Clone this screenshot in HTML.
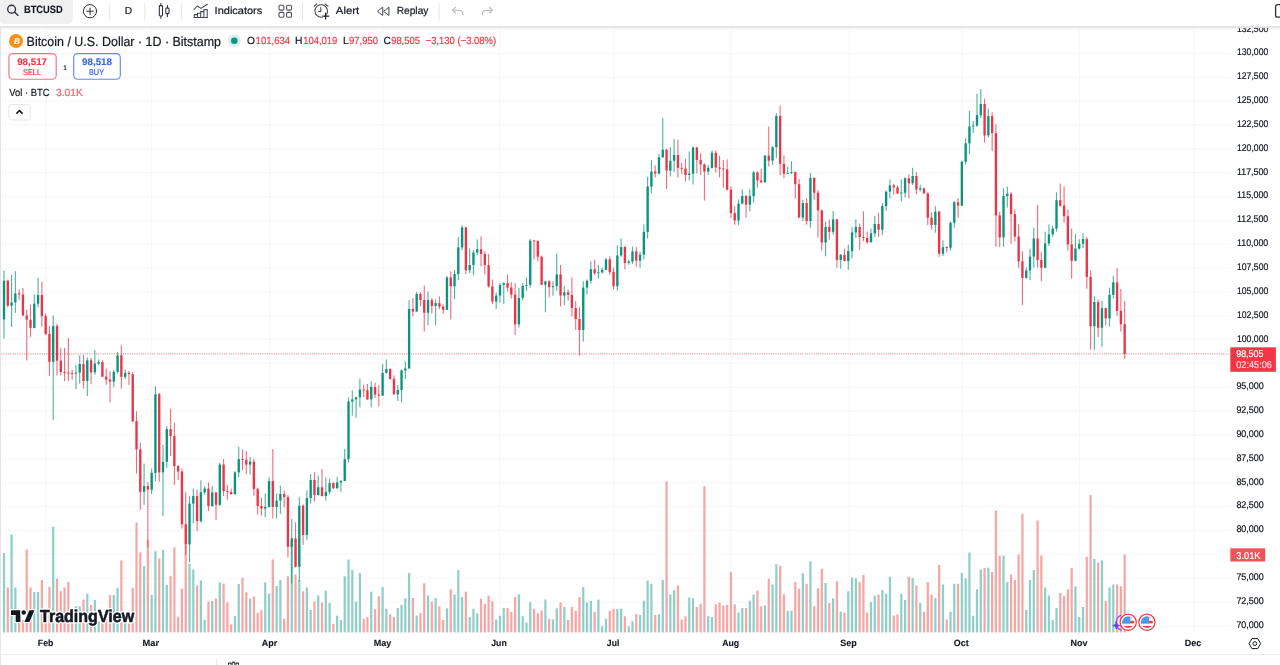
<!DOCTYPE html>
<html lang="en"><head><meta charset="utf-8"><title>BTCUSD chart</title>
<style>
html,body{margin:0;padding:0;background:#fff}
body{width:1280px;height:665px;position:relative;overflow:hidden;font-family:"Liberation Sans",sans-serif;color:#131722}
.w{opacity:.72}
text{font-family:"Liberation Sans",sans-serif;text-rendering:geometricPrecision;white-space:pre}
.abs{position:absolute}
.chart{position:absolute;left:0;top:0}
#pane{position:absolute;left:0;top:28px;width:1280px;height:637px;overflow:hidden}
#pane .chart{top:-28px}
</style></head><body>
<div id="toolbar">
<div class="abs" style="left:0;top:0;width:73px;height:24px;background:#f0f0f0;border-radius:0 0 5px 5px"></div>
<div class="abs" style="left:0;top:26px;width:1280px;height:2px;background:#e5e5e5"></div>
<div class="abs" style="left:0;top:28px;width:1280px;height:1px;background:#f4f4f4"></div>
<svg class="chart" width="1280" height="28" viewBox="0 0 1280 28" fill="none" stroke="#2a2e39" stroke-width="1.1" stroke-linecap="round" stroke-linejoin="round">
<!-- search -->
<circle cx="11.6" cy="9.2" r="3.9" stroke-width="1.35"/><path d="M14.5 12.1 L18 15.4" stroke-width="1.35"/>
<!-- plus circle -->
<circle cx="90" cy="11.2" r="6.6" stroke-width="1"/><path d="M86.8 11.2H93.2M90 8V14.4" stroke-width="1"/>
<!-- separators -->
<g stroke="#e6e6e6" stroke-width="1"><path d="M109.3 3.5V20M144.8 3.5V20M181.4 3.5V20M302.5 3.5V20M439.2 3.5V20"/></g>
<!-- candles icon -->
<g stroke-width="1.05"><rect x="159.3" y="5.6" width="3.2" height="10.3" rx="0.8"/><path d="M160.9 3.3V5.6M160.9 15.9V18.3"/><rect x="165.8" y="8" width="3.2" height="5.6" rx="0.8"/><path d="M167.4 5.6V8M167.4 13.6V16.4"/></g>
<!-- indicators icon -->
<g stroke-width="1.05" stroke="#434651"><path d="M194 9.3 L197.3 6 L201 8.4 L207.3 4.2"/><path d="M194.3 17.5V14.6H197.5V17.5M197.5 17.5V13.2H200.7V17.5M200.7 17.5V11.6H203.9V17.5M203.9 17.5V9.6H207.2V17.5M194 17.5H207.5"/></g>
<!-- grid icon -->
<g stroke-width="1.1" stroke="#50535e"><rect x="279" y="5.2" width="4.9" height="4.9" rx="1.2"/><rect x="286.6" y="5.2" width="4.9" height="4.9" rx="1.2"/><rect x="279" y="12.4" width="4.9" height="4.9" rx="1.2"/><rect x="286.6" y="12.4" width="4.9" height="4.9" rx="1.2"/></g>
<!-- alert icon -->
<g stroke-width="1.05" stroke="#434651"><path d="M326.6 14.2 A6.3 6.3 0 1 0 322.3 17.2"/><path d="M320.8 7.6V11.4H318.6"/><path d="M314.2 6.2 L316.8 4M325 4 L328 6.4"/><path d="M325.6 13.2V19M322.7 16.1H328.6" stroke-width="1.2" stroke="#131722"/></g>
<!-- replay icon -->
<g stroke-width="1" stroke="#434651"><path d="M382.4 7.4 L377.4 11.3 L382.4 15.2 Z"/><path d="M388.6 7.4 L383.6 11.3 L388.6 15.2 Z"/></g>
<!-- undo / redo -->
<g stroke="#b2b5be" stroke-width="1.05"><path d="M455.6 7.4 L452.7 10.2 L455.6 13"/><path d="M452.9 10.2H458.6C461.2 10.2 462.8 12 462.8 14.6"/><path d="M489.4 7.4 L492.3 10.2 L489.4 13"/><path d="M492.1 10.2H486.4C483.8 10.2 482.2 12 482.2 14.6"/></g>
<!-- top-right square -->
<rect x="1275.6" y="4.6" width="12" height="12.6" rx="2" stroke-width="1.3"/>
<g id="txt" stroke="none">
<text x="23.90" y="13.00" font-size="10.60" font-weight="700" fill="#131722" textLength="38.90" lengthAdjust="spacingAndGlyphs" style="stroke:#131722;stroke-width:0.12px">BTCUSD</text>
<text x="124.80" y="14.00" font-size="10.20" font-weight="400" fill="#131722" style="stroke:#131722;stroke-width:0.20px">D</text>
<text x="214.60" y="14.00" font-size="10.30" font-weight="400" fill="#131722" textLength="47.71" lengthAdjust="spacingAndGlyphs" style="stroke:#131722;stroke-width:0.20px">Indicators</text>
<text x="335.80" y="14.00" font-size="10.30" font-weight="400" fill="#131722" textLength="23.40" lengthAdjust="spacingAndGlyphs" style="stroke:#131722;stroke-width:0.20px">Alert</text>
<text x="396.70" y="14.00" font-size="10.30" font-weight="400" fill="#131722" textLength="31.70" lengthAdjust="spacingAndGlyphs" style="stroke:#131722;stroke-width:0.20px">Replay</text>
</g>
</svg>

</div>
<div id="pane">
<svg class="chart" width="1280" height="665" viewBox="0 0 1280 665">
<g fill="#f6f6f7">
<rect x="1.5" y="52.96" width="1229" height="1"/>
<rect x="1.5" y="76.81" width="1229" height="1"/>
<rect x="1.5" y="100.66" width="1229" height="1"/>
<rect x="1.5" y="124.50" width="1229" height="1"/>
<rect x="1.5" y="148.35" width="1229" height="1"/>
<rect x="1.5" y="172.20" width="1229" height="1"/>
<rect x="1.5" y="196.05" width="1229" height="1"/>
<rect x="1.5" y="219.90" width="1229" height="1"/>
<rect x="1.5" y="243.75" width="1229" height="1"/>
<rect x="1.5" y="267.59" width="1229" height="1"/>
<rect x="1.5" y="291.44" width="1229" height="1"/>
<rect x="1.5" y="315.29" width="1229" height="1"/>
<rect x="1.5" y="339.14" width="1229" height="1"/>
<rect x="1.5" y="362.99" width="1229" height="1"/>
<rect x="1.5" y="386.83" width="1229" height="1"/>
<rect x="1.5" y="410.68" width="1229" height="1"/>
<rect x="1.5" y="434.53" width="1229" height="1"/>
<rect x="1.5" y="458.38" width="1229" height="1"/>
<rect x="1.5" y="482.23" width="1229" height="1"/>
<rect x="1.5" y="506.07" width="1229" height="1"/>
<rect x="1.5" y="529.92" width="1229" height="1"/>
<rect x="1.5" y="553.77" width="1229" height="1"/>
<rect x="1.5" y="577.62" width="1229" height="1"/>
<rect x="1.5" y="601.47" width="1229" height="1"/>
<rect x="1.5" y="625.32" width="1229" height="1"/>
</g><g fill="#f5f5f6">
<rect x="45.70" y="28" width="1" height="605.5"/>
<rect x="150.90" y="28" width="1" height="605.5"/>
<rect x="269.50" y="28" width="1" height="605.5"/>
<rect x="382.50" y="28" width="1" height="605.5"/>
<rect x="499.10" y="28" width="1" height="605.5"/>
<rect x="613.20" y="28" width="1" height="605.5"/>
<rect x="730.75" y="28" width="1" height="605.5"/>
<rect x="848.70" y="28" width="1" height="605.5"/>
<rect x="961.40" y="28" width="1" height="605.5"/>
<rect x="1079.00" y="28" width="1" height="605.5"/>
<rect x="1193.20" y="28" width="1" height="605.5"/>
</g>
<g fill="#90cfc9"><rect x="2.88" y="553.00" width="2.25" height="79.40"/><rect x="10.45" y="534.50" width="2.25" height="97.90"/><rect x="14.23" y="587.50" width="2.25" height="44.90"/><rect x="33.16" y="592.00" width="2.25" height="40.40"/><rect x="36.95" y="592.00" width="2.25" height="40.40"/><rect x="52.09" y="526.75" width="2.25" height="105.65"/><rect x="74.81" y="606.25" width="2.25" height="26.15"/><rect x="78.59" y="606.25" width="2.25" height="26.15"/><rect x="86.17" y="593.75" width="2.25" height="38.65"/><rect x="93.74" y="600.00" width="2.25" height="32.40"/><rect x="97.53" y="621.25" width="2.25" height="11.15"/><rect x="112.67" y="595.00" width="2.25" height="37.40"/><rect x="116.45" y="588.00" width="2.25" height="44.40"/><rect x="124.03" y="622.29" width="2.25" height="10.11"/><rect x="142.96" y="566.12" width="2.25" height="66.28"/><rect x="150.53" y="594.83" width="2.25" height="37.57"/><rect x="154.31" y="551.14" width="2.25" height="81.26"/><rect x="161.89" y="549.90" width="2.25" height="82.50"/><rect x="165.67" y="584.84" width="2.25" height="47.56"/><rect x="188.39" y="563.62" width="2.25" height="68.78"/><rect x="192.18" y="569.37" width="2.25" height="63.03"/><rect x="199.75" y="580.35" width="2.25" height="52.05"/><rect x="203.53" y="619.79" width="2.25" height="12.61"/><rect x="211.10" y="601.07" width="2.25" height="31.33"/><rect x="218.68" y="582.35" width="2.25" height="50.05"/><rect x="233.82" y="616.05" width="2.25" height="16.35"/><rect x="237.61" y="584.09" width="2.25" height="48.31"/><rect x="248.97" y="598.57" width="2.25" height="33.83"/><rect x="264.11" y="582.35" width="2.25" height="50.05"/><rect x="267.89" y="593.58" width="2.25" height="38.82"/><rect x="275.47" y="586.09" width="2.25" height="46.31"/><rect x="279.25" y="580.00" width="2.25" height="52.40"/><rect x="290.61" y="545.00" width="2.25" height="87.40"/><rect x="298.18" y="580.00" width="2.25" height="52.40"/><rect x="305.75" y="587.50" width="2.25" height="44.90"/><rect x="309.54" y="610.00" width="2.25" height="22.40"/><rect x="317.11" y="595.50" width="2.25" height="36.90"/><rect x="324.69" y="590.75" width="2.25" height="41.65"/><rect x="328.47" y="603.00" width="2.25" height="29.40"/><rect x="336.04" y="615.75" width="2.25" height="16.65"/><rect x="339.83" y="620.00" width="2.25" height="12.40"/><rect x="343.62" y="576.25" width="2.25" height="56.15"/><rect x="347.40" y="559.50" width="2.25" height="72.90"/><rect x="351.19" y="570.00" width="2.25" height="62.40"/><rect x="354.97" y="601.75" width="2.25" height="30.65"/><rect x="358.76" y="573.00" width="2.25" height="59.40"/><rect x="370.12" y="591.75" width="2.25" height="40.65"/><rect x="381.48" y="587.00" width="2.25" height="45.40"/><rect x="385.26" y="608.75" width="2.25" height="23.65"/><rect x="396.62" y="608.00" width="2.25" height="24.40"/><rect x="400.41" y="605.00" width="2.25" height="27.40"/><rect x="404.19" y="598.25" width="2.25" height="34.15"/><rect x="407.98" y="573.00" width="2.25" height="59.40"/><rect x="415.55" y="615.50" width="2.25" height="16.90"/><rect x="426.91" y="595.50" width="2.25" height="36.90"/><rect x="434.48" y="598.00" width="2.25" height="34.40"/><rect x="445.84" y="608.25" width="2.25" height="24.15"/><rect x="453.41" y="594.50" width="2.25" height="37.90"/><rect x="457.19" y="570.00" width="2.25" height="62.40"/><rect x="460.98" y="597.00" width="2.25" height="35.40"/><rect x="468.55" y="617.00" width="2.25" height="15.40"/><rect x="472.34" y="608.75" width="2.25" height="23.65"/><rect x="476.12" y="613.25" width="2.25" height="19.15"/><rect x="495.06" y="619.50" width="2.25" height="12.90"/><rect x="498.84" y="615.75" width="2.25" height="16.65"/><rect x="502.63" y="608.00" width="2.25" height="24.40"/><rect x="517.77" y="594.25" width="2.25" height="38.15"/><rect x="521.56" y="616.25" width="2.25" height="16.15"/><rect x="525.34" y="622.50" width="2.25" height="9.90"/><rect x="529.13" y="602.00" width="2.25" height="30.40"/><rect x="544.27" y="599.50" width="2.25" height="32.90"/><rect x="551.85" y="619.50" width="2.25" height="12.90"/><rect x="555.63" y="608.25" width="2.25" height="24.15"/><rect x="563.20" y="607.00" width="2.25" height="25.40"/><rect x="582.13" y="587.00" width="2.25" height="45.40"/><rect x="585.92" y="602.50" width="2.25" height="29.90"/><rect x="589.71" y="600.75" width="2.25" height="31.65"/><rect x="597.28" y="599.50" width="2.25" height="32.90"/><rect x="601.06" y="626.25" width="2.25" height="6.15"/><rect x="604.85" y="618.75" width="2.25" height="13.65"/><rect x="616.21" y="608.75" width="2.25" height="23.65"/><rect x="619.99" y="608.75" width="2.25" height="23.65"/><rect x="627.57" y="626.25" width="2.25" height="6.15"/><rect x="631.35" y="621.25" width="2.25" height="11.15"/><rect x="638.92" y="615.00" width="2.25" height="17.40"/><rect x="642.71" y="600.75" width="2.25" height="31.65"/><rect x="646.50" y="580.50" width="2.25" height="51.90"/><rect x="650.28" y="583.75" width="2.25" height="48.65"/><rect x="657.85" y="614.25" width="2.25" height="18.15"/><rect x="661.64" y="580.00" width="2.25" height="52.40"/><rect x="669.21" y="594.50" width="2.25" height="37.90"/><rect x="673.00" y="590.00" width="2.25" height="42.40"/><rect x="688.14" y="597.50" width="2.25" height="34.90"/><rect x="691.93" y="598.25" width="2.25" height="34.15"/><rect x="707.07" y="616.25" width="2.25" height="16.15"/><rect x="710.86" y="617.00" width="2.25" height="15.40"/><rect x="737.36" y="612.50" width="2.25" height="19.90"/><rect x="741.14" y="608.00" width="2.25" height="24.40"/><rect x="748.72" y="600.75" width="2.25" height="31.65"/><rect x="752.50" y="594.50" width="2.25" height="37.90"/><rect x="763.86" y="605.50" width="2.25" height="26.90"/><rect x="771.43" y="584.50" width="2.25" height="47.90"/><rect x="775.22" y="564.25" width="2.25" height="68.15"/><rect x="786.58" y="610.75" width="2.25" height="21.65"/><rect x="790.36" y="610.75" width="2.25" height="21.65"/><rect x="801.72" y="573.25" width="2.25" height="59.15"/><rect x="809.29" y="561.25" width="2.25" height="71.15"/><rect x="824.44" y="583.00" width="2.25" height="49.40"/><rect x="832.01" y="598.25" width="2.25" height="34.15"/><rect x="839.58" y="611.75" width="2.25" height="20.65"/><rect x="847.15" y="591.25" width="2.25" height="41.15"/><rect x="850.94" y="577.50" width="2.25" height="54.90"/><rect x="854.73" y="578.25" width="2.25" height="54.15"/><rect x="869.87" y="602.00" width="2.25" height="30.40"/><rect x="873.65" y="595.75" width="2.25" height="36.65"/><rect x="881.23" y="590.00" width="2.25" height="42.40"/><rect x="885.01" y="593.75" width="2.25" height="38.65"/><rect x="888.80" y="576.75" width="2.25" height="55.65"/><rect x="900.16" y="593.75" width="2.25" height="38.65"/><rect x="903.94" y="600.00" width="2.25" height="32.40"/><rect x="911.51" y="578.00" width="2.25" height="54.40"/><rect x="919.09" y="603.00" width="2.25" height="29.40"/><rect x="934.23" y="598.00" width="2.25" height="34.40"/><rect x="941.80" y="584.50" width="2.25" height="47.90"/><rect x="949.38" y="611.75" width="2.25" height="20.65"/><rect x="953.16" y="583.75" width="2.25" height="48.65"/><rect x="960.73" y="573.00" width="2.25" height="59.40"/><rect x="964.52" y="578.25" width="2.25" height="54.15"/><rect x="968.31" y="552.50" width="2.25" height="79.90"/><rect x="972.09" y="615.75" width="2.25" height="16.65"/><rect x="975.88" y="589.25" width="2.25" height="43.15"/><rect x="979.66" y="569.50" width="2.25" height="62.90"/><rect x="987.24" y="567.50" width="2.25" height="64.90"/><rect x="1002.38" y="555.50" width="2.25" height="76.90"/><rect x="1006.16" y="582.00" width="2.25" height="50.40"/><rect x="1025.10" y="610.00" width="2.25" height="22.40"/><rect x="1028.88" y="580.00" width="2.25" height="52.40"/><rect x="1032.67" y="570.00" width="2.25" height="62.40"/><rect x="1044.03" y="587.50" width="2.25" height="44.90"/><rect x="1047.81" y="595.50" width="2.25" height="36.90"/><rect x="1051.60" y="620.00" width="2.25" height="12.40"/><rect x="1055.38" y="608.00" width="2.25" height="24.40"/><rect x="1074.31" y="586.25" width="2.25" height="46.15"/><rect x="1078.10" y="617.00" width="2.25" height="15.40"/><rect x="1081.88" y="607.00" width="2.25" height="25.40"/><rect x="1093.24" y="558.75" width="2.25" height="73.65"/><rect x="1100.82" y="560.50" width="2.25" height="71.90"/><rect x="1108.39" y="587.50" width="2.25" height="44.90"/><rect x="1112.17" y="584.50" width="2.25" height="47.90"/></g>
<g fill="#f5a7a5"><rect x="6.66" y="587.50" width="2.25" height="44.90"/><rect x="18.02" y="620.00" width="2.25" height="12.40"/><rect x="21.80" y="620.00" width="2.25" height="12.40"/><rect x="25.59" y="549.50" width="2.25" height="82.90"/><rect x="29.38" y="587.50" width="2.25" height="44.90"/><rect x="40.73" y="580.00" width="2.25" height="52.40"/><rect x="44.52" y="616.25" width="2.25" height="16.15"/><rect x="48.31" y="587.00" width="2.25" height="45.40"/><rect x="55.88" y="578.75" width="2.25" height="53.65"/><rect x="59.66" y="591.25" width="2.25" height="41.15"/><rect x="63.45" y="587.50" width="2.25" height="44.90"/><rect x="67.24" y="582.00" width="2.25" height="50.40"/><rect x="71.02" y="620.00" width="2.25" height="12.40"/><rect x="82.38" y="599.50" width="2.25" height="32.90"/><rect x="89.95" y="605.00" width="2.25" height="27.40"/><rect x="101.31" y="620.00" width="2.25" height="12.40"/><rect x="105.10" y="612.50" width="2.25" height="19.90"/><rect x="108.88" y="595.00" width="2.25" height="37.40"/><rect x="120.24" y="560.38" width="2.25" height="72.02"/><rect x="127.81" y="623.53" width="2.25" height="8.87"/><rect x="131.60" y="587.84" width="2.25" height="44.56"/><rect x="135.38" y="522.44" width="2.25" height="109.96"/><rect x="139.17" y="552.39" width="2.25" height="80.01"/><rect x="146.74" y="539.91" width="2.25" height="92.49"/><rect x="158.10" y="558.63" width="2.25" height="73.77"/><rect x="169.46" y="576.11" width="2.25" height="56.29"/><rect x="173.25" y="547.40" width="2.25" height="85.00"/><rect x="177.03" y="616.79" width="2.25" height="15.61"/><rect x="180.82" y="588.59" width="2.25" height="43.81"/><rect x="184.60" y="544.90" width="2.25" height="87.50"/><rect x="195.96" y="585.34" width="2.25" height="47.06"/><rect x="207.32" y="601.57" width="2.25" height="30.83"/><rect x="214.89" y="598.57" width="2.25" height="33.83"/><rect x="222.46" y="583.59" width="2.25" height="48.81"/><rect x="226.25" y="602.32" width="2.25" height="30.08"/><rect x="230.03" y="624.28" width="2.25" height="8.12"/><rect x="241.39" y="577.85" width="2.25" height="54.55"/><rect x="245.18" y="592.33" width="2.25" height="40.07"/><rect x="252.75" y="596.58" width="2.25" height="35.82"/><rect x="256.54" y="612.80" width="2.25" height="19.60"/><rect x="260.32" y="610.30" width="2.25" height="22.10"/><rect x="271.68" y="559.38" width="2.25" height="73.02"/><rect x="283.04" y="618.75" width="2.25" height="13.65"/><rect x="286.82" y="576.25" width="2.25" height="56.15"/><rect x="294.40" y="574.50" width="2.25" height="57.90"/><rect x="301.97" y="591.25" width="2.25" height="41.15"/><rect x="313.33" y="601.25" width="2.25" height="31.15"/><rect x="320.90" y="602.50" width="2.25" height="29.90"/><rect x="332.26" y="623.75" width="2.25" height="8.65"/><rect x="362.55" y="618.75" width="2.25" height="13.65"/><rect x="366.33" y="617.00" width="2.25" height="15.40"/><rect x="373.90" y="609.25" width="2.25" height="23.15"/><rect x="377.69" y="596.25" width="2.25" height="36.15"/><rect x="389.05" y="614.25" width="2.25" height="18.15"/><rect x="392.83" y="617.00" width="2.25" height="15.40"/><rect x="411.76" y="598.00" width="2.25" height="34.40"/><rect x="419.33" y="613.25" width="2.25" height="19.15"/><rect x="423.12" y="583.25" width="2.25" height="49.15"/><rect x="430.69" y="601.75" width="2.25" height="30.65"/><rect x="438.26" y="606.25" width="2.25" height="26.15"/><rect x="442.05" y="620.00" width="2.25" height="12.40"/><rect x="449.62" y="589.25" width="2.25" height="43.15"/><rect x="464.77" y="591.75" width="2.25" height="40.65"/><rect x="479.91" y="598.75" width="2.25" height="33.65"/><rect x="483.70" y="603.75" width="2.25" height="28.65"/><rect x="487.48" y="595.75" width="2.25" height="36.65"/><rect x="491.27" y="601.25" width="2.25" height="31.15"/><rect x="506.41" y="608.00" width="2.25" height="24.40"/><rect x="510.20" y="612.00" width="2.25" height="20.40"/><rect x="513.99" y="597.00" width="2.25" height="35.40"/><rect x="532.91" y="608.75" width="2.25" height="23.65"/><rect x="536.70" y="613.25" width="2.25" height="19.15"/><rect x="540.49" y="610.50" width="2.25" height="21.90"/><rect x="548.06" y="618.75" width="2.25" height="13.65"/><rect x="559.42" y="602.50" width="2.25" height="29.90"/><rect x="566.99" y="620.00" width="2.25" height="12.40"/><rect x="570.77" y="607.00" width="2.25" height="25.40"/><rect x="574.56" y="610.75" width="2.25" height="21.65"/><rect x="578.35" y="597.00" width="2.25" height="35.40"/><rect x="593.49" y="611.75" width="2.25" height="20.65"/><rect x="608.63" y="610.75" width="2.25" height="21.65"/><rect x="612.42" y="608.75" width="2.25" height="23.65"/><rect x="623.78" y="616.25" width="2.25" height="16.15"/><rect x="635.14" y="613.75" width="2.25" height="18.65"/><rect x="654.07" y="615.00" width="2.25" height="17.40"/><rect x="665.42" y="481.25" width="2.25" height="151.15"/><rect x="676.78" y="585.50" width="2.25" height="46.90"/><rect x="680.57" y="619.50" width="2.25" height="12.90"/><rect x="684.36" y="616.25" width="2.25" height="16.15"/><rect x="695.71" y="607.00" width="2.25" height="25.40"/><rect x="699.50" y="603.75" width="2.25" height="28.65"/><rect x="703.28" y="486.25" width="2.25" height="146.15"/><rect x="714.64" y="604.25" width="2.25" height="28.15"/><rect x="718.43" y="602.50" width="2.25" height="29.90"/><rect x="722.22" y="605.50" width="2.25" height="26.90"/><rect x="726.00" y="605.00" width="2.25" height="27.40"/><rect x="729.79" y="572.00" width="2.25" height="60.40"/><rect x="733.57" y="604.25" width="2.25" height="28.15"/><rect x="744.93" y="608.00" width="2.25" height="24.40"/><rect x="756.29" y="590.75" width="2.25" height="41.65"/><rect x="760.08" y="606.25" width="2.25" height="26.15"/><rect x="767.65" y="578.75" width="2.25" height="53.65"/><rect x="779.00" y="565.75" width="2.25" height="66.65"/><rect x="782.79" y="594.25" width="2.25" height="38.15"/><rect x="794.15" y="582.00" width="2.25" height="50.40"/><rect x="797.94" y="588.75" width="2.25" height="43.65"/><rect x="805.51" y="583.75" width="2.25" height="48.65"/><rect x="813.08" y="606.25" width="2.25" height="26.15"/><rect x="816.87" y="588.25" width="2.25" height="44.15"/><rect x="820.65" y="568.75" width="2.25" height="63.65"/><rect x="828.22" y="603.00" width="2.25" height="29.40"/><rect x="835.79" y="581.25" width="2.25" height="51.15"/><rect x="843.37" y="612.50" width="2.25" height="19.90"/><rect x="858.51" y="582.00" width="2.25" height="50.40"/><rect x="862.30" y="575.00" width="2.25" height="57.40"/><rect x="866.08" y="612.50" width="2.25" height="19.90"/><rect x="877.44" y="594.50" width="2.25" height="37.90"/><rect x="892.59" y="615.50" width="2.25" height="16.90"/><rect x="896.37" y="614.25" width="2.25" height="18.15"/><rect x="907.73" y="576.75" width="2.25" height="55.65"/><rect x="915.30" y="585.50" width="2.25" height="46.90"/><rect x="922.87" y="611.75" width="2.25" height="20.65"/><rect x="926.66" y="582.00" width="2.25" height="50.40"/><rect x="930.45" y="594.50" width="2.25" height="37.90"/><rect x="938.02" y="565.00" width="2.25" height="67.40"/><rect x="945.59" y="619.50" width="2.25" height="12.90"/><rect x="956.95" y="583.75" width="2.25" height="48.65"/><rect x="983.45" y="568.00" width="2.25" height="64.40"/><rect x="991.02" y="572.00" width="2.25" height="60.40"/><rect x="994.81" y="510.50" width="2.25" height="121.90"/><rect x="998.59" y="555.75" width="2.25" height="76.65"/><rect x="1009.95" y="574.50" width="2.25" height="57.90"/><rect x="1013.74" y="580.00" width="2.25" height="52.40"/><rect x="1017.52" y="554.50" width="2.25" height="77.90"/><rect x="1021.31" y="513.75" width="2.25" height="118.65"/><rect x="1036.45" y="520.50" width="2.25" height="111.90"/><rect x="1040.24" y="555.50" width="2.25" height="76.90"/><rect x="1059.17" y="593.00" width="2.25" height="39.40"/><rect x="1062.95" y="596.25" width="2.25" height="36.15"/><rect x="1066.74" y="589.25" width="2.25" height="43.15"/><rect x="1070.53" y="568.00" width="2.25" height="64.40"/><rect x="1085.67" y="557.00" width="2.25" height="75.40"/><rect x="1089.46" y="495.00" width="2.25" height="137.40"/><rect x="1097.03" y="562.50" width="2.25" height="69.90"/><rect x="1104.60" y="600.75" width="2.25" height="31.65"/><rect x="1115.96" y="584.50" width="2.25" height="47.90"/><rect x="1119.75" y="586.25" width="2.25" height="46.15"/><rect x="1123.53" y="554.50" width="2.25" height="77.90"/></g>
<line x1="1.5" y1="353.9" x2="1230" y2="353.9" stroke="#e93547" stroke-width="1" stroke-dasharray="0.8 1.45" opacity="0.85"/>
<g fill="#0a947d"><rect class="w" x="3.45" y="270.48" width="1.10" height="68.15"/><rect x="2.83" y="280.72" width="2.35" height="38.69"/><rect class="w" x="11.02" y="274.98" width="1.10" height="51.92"/><rect x="10.40" y="302.44" width="2.35" height="3.24"/><rect class="w" x="14.81" y="271.23" width="1.10" height="41.69"/><rect x="14.18" y="293.45" width="2.35" height="8.99"/><rect class="w" x="33.74" y="294.45" width="1.10" height="33.95"/><rect x="33.11" y="303.68" width="2.35" height="24.22"/><rect class="w" x="37.52" y="277.97" width="1.10" height="29.46"/><rect x="36.90" y="294.95" width="2.35" height="8.73"/><rect class="w" x="52.67" y="315.42" width="1.10" height="104.34"/><rect x="52.04" y="326.15" width="2.35" height="35.70"/><rect class="w" x="75.38" y="364.84" width="1.10" height="24.47"/><rect x="74.76" y="372.58" width="2.35" height="1.00"/><rect class="w" x="79.17" y="355.36" width="1.10" height="28.20"/><rect x="78.55" y="364.09" width="2.35" height="8.49"/><rect class="w" x="86.74" y="357.35" width="1.10" height="38.70"/><rect x="86.12" y="360.35" width="2.35" height="20.72"/><rect class="w" x="94.31" y="349.87" width="1.10" height="24.96"/><rect x="93.69" y="363.59" width="2.35" height="8.74"/><rect class="w" x="98.10" y="359.35" width="1.10" height="5.99"/><rect x="97.48" y="362.10" width="2.35" height="1.49"/><rect class="w" x="113.24" y="369.84" width="1.10" height="17.47"/><rect x="112.62" y="371.83" width="2.35" height="9.74"/><rect class="w" x="117.03" y="351.86" width="1.10" height="21.72"/><rect x="116.41" y="355.36" width="2.35" height="16.47"/><rect class="w" x="124.60" y="369.34" width="1.10" height="9.98"/><rect x="123.98" y="372.83" width="2.35" height="3.99"/><rect class="w" x="143.53" y="463.61" width="1.10" height="41.19"/><rect x="142.91" y="486.08" width="2.35" height="5.74"/><rect class="w" x="151.10" y="468.60" width="1.10" height="25.46"/><rect x="150.48" y="472.85" width="2.35" height="16.72"/><rect class="w" x="154.89" y="386.23" width="1.10" height="94.85"/><rect x="154.26" y="394.21" width="2.35" height="78.64"/><rect class="w" x="162.46" y="444.89" width="1.10" height="71.14"/><rect x="161.84" y="461.86" width="2.35" height="10.49"/><rect class="w" x="166.25" y="426.17" width="1.10" height="41.68"/><rect x="165.62" y="429.16" width="2.35" height="32.70"/><rect class="w" x="188.96" y="496.06" width="1.10" height="66.32"/><rect x="188.34" y="503.55" width="2.35" height="40.85"/><rect class="w" x="192.75" y="488.57" width="1.10" height="34.95"/><rect x="192.12" y="496.06" width="2.35" height="7.49"/><rect class="w" x="200.32" y="480.33" width="1.10" height="42.44"/><rect x="199.70" y="492.32" width="2.35" height="28.70"/><rect class="w" x="204.11" y="486.08" width="1.10" height="8.73"/><rect x="203.48" y="488.57" width="2.35" height="3.75"/><rect class="w" x="211.68" y="486.08" width="1.10" height="20.71"/><rect x="211.05" y="492.32" width="2.35" height="13.73"/><rect class="w" x="219.25" y="462.86" width="1.10" height="43.19"/><rect x="218.63" y="464.61" width="2.35" height="40.19"/><rect class="w" x="234.40" y="471.10" width="1.10" height="23.71"/><rect x="233.77" y="472.35" width="2.35" height="21.71"/><rect class="w" x="238.18" y="446.88" width="1.10" height="30.46"/><rect x="237.56" y="459.12" width="2.35" height="13.23"/><rect class="w" x="249.54" y="456.87" width="1.10" height="17.47"/><rect x="248.91" y="461.56" width="2.35" height="3.06"/><rect class="w" x="264.68" y="493.50" width="1.10" height="24.00"/><rect x="264.06" y="506.88" width="2.35" height="1.75"/><rect class="w" x="268.47" y="477.50" width="1.10" height="30.00"/><rect x="267.84" y="481.00" width="2.35" height="25.88"/><rect class="w" x="276.04" y="493.50" width="1.10" height="25.00"/><rect x="275.42" y="500.62" width="2.35" height="6.26"/><rect class="w" x="279.83" y="485.62" width="1.10" height="28.13"/><rect x="279.20" y="493.94" width="2.35" height="6.68"/><rect class="w" x="291.19" y="519.00" width="1.10" height="64.75"/><rect x="290.56" y="538.31" width="2.35" height="8.57"/><rect class="w" x="298.76" y="496.88" width="1.10" height="84.37"/><rect x="298.13" y="505.62" width="2.35" height="61.26"/><rect class="w" x="306.33" y="490.25" width="1.10" height="50.00"/><rect x="305.70" y="498.12" width="2.35" height="36.88"/><rect class="w" x="310.12" y="474.00" width="1.10" height="29.75"/><rect x="309.49" y="480.00" width="2.35" height="18.12"/><rect class="w" x="317.69" y="475.62" width="1.10" height="20.00"/><rect x="317.06" y="487.25" width="2.35" height="7.75"/><rect class="w" x="325.26" y="477.50" width="1.10" height="23.12"/><rect x="324.63" y="491.88" width="2.35" height="4.12"/><rect class="w" x="329.05" y="478.75" width="1.10" height="15.63"/><rect x="328.42" y="483.12" width="2.35" height="8.76"/><rect class="w" x="336.62" y="476.88" width="1.10" height="11.62"/><rect x="335.99" y="482.50" width="2.35" height="5.81"/><rect class="w" x="340.40" y="480.00" width="1.10" height="11.88"/><rect x="339.78" y="481.00" width="2.35" height="1.50"/><rect class="w" x="344.19" y="449.00" width="1.10" height="32.25"/><rect x="343.56" y="459.19" width="2.35" height="21.81"/><rect class="w" x="347.98" y="397.50" width="1.10" height="65.00"/><rect x="347.35" y="401.56" width="2.35" height="57.62"/><rect class="w" x="351.76" y="390.25" width="1.10" height="25.37"/><rect x="351.14" y="399.38" width="2.35" height="2.19"/><rect class="w" x="355.55" y="396.88" width="1.10" height="20.87"/><rect x="354.92" y="397.25" width="2.35" height="2.13"/><rect class="w" x="359.33" y="378.75" width="1.10" height="28.50"/><rect x="358.71" y="389.56" width="2.35" height="7.69"/><rect class="w" x="370.69" y="381.25" width="1.10" height="26.00"/><rect x="370.07" y="386.88" width="2.35" height="12.50"/><rect class="w" x="382.05" y="364.00" width="1.10" height="32.00"/><rect x="381.43" y="372.94" width="2.35" height="22.69"/><rect class="w" x="385.84" y="359.38" width="1.10" height="14.12"/><rect x="385.21" y="369.00" width="2.35" height="3.94"/><rect class="w" x="397.19" y="385.00" width="1.10" height="16.00"/><rect x="396.57" y="390.00" width="2.35" height="4.19"/><rect class="w" x="400.98" y="369.38" width="1.10" height="33.12"/><rect x="400.36" y="370.44" width="2.35" height="19.56"/><rect class="w" x="404.77" y="361.50" width="1.10" height="17.50"/><rect x="404.14" y="368.50" width="2.35" height="1.94"/><rect class="w" x="408.55" y="300.25" width="1.10" height="68.50"/><rect x="407.93" y="309.00" width="2.35" height="59.50"/><rect class="w" x="416.12" y="291.88" width="1.10" height="20.00"/><rect x="415.50" y="294.00" width="2.35" height="17.50"/><rect class="w" x="427.48" y="291.50" width="1.10" height="33.75"/><rect x="426.86" y="300.12" width="2.35" height="12.62"/><rect class="w" x="435.05" y="299.38" width="1.10" height="25.87"/><rect x="434.43" y="303.12" width="2.35" height="2.81"/><rect class="w" x="446.41" y="276.00" width="1.10" height="34.00"/><rect x="445.79" y="277.50" width="2.35" height="32.25"/><rect class="w" x="453.98" y="270.00" width="1.10" height="29.00"/><rect x="453.36" y="274.06" width="2.35" height="12.19"/><rect class="w" x="457.77" y="236.88" width="1.10" height="43.37"/><rect x="457.14" y="247.38" width="2.35" height="26.69"/><rect class="w" x="461.56" y="225.25" width="1.10" height="25.00"/><rect x="460.93" y="227.38" width="2.35" height="20.00"/><rect class="w" x="469.13" y="248.50" width="1.10" height="24.62"/><rect x="468.50" y="265.00" width="2.35" height="5.31"/><rect class="w" x="472.91" y="250.00" width="1.10" height="25.25"/><rect x="472.29" y="252.50" width="2.35" height="12.50"/><rect class="w" x="476.70" y="239.38" width="1.10" height="15.87"/><rect x="476.07" y="249.19" width="2.35" height="3.31"/><rect class="w" x="495.63" y="292.50" width="1.10" height="16.50"/><rect x="495.00" y="295.62" width="2.35" height="5.94"/><rect class="w" x="499.42" y="283.12" width="1.10" height="19.63"/><rect x="498.79" y="285.00" width="2.35" height="10.62"/><rect class="w" x="503.20" y="282.25" width="1.10" height="21.50"/><rect x="502.58" y="283.12" width="2.35" height="1.88"/><rect class="w" x="518.35" y="287.75" width="1.10" height="39.75"/><rect x="517.72" y="297.94" width="2.35" height="26.44"/><rect class="w" x="522.13" y="283.12" width="1.10" height="17.50"/><rect x="521.51" y="285.81" width="2.35" height="12.12"/><rect class="w" x="525.92" y="277.50" width="1.10" height="13.50"/><rect x="525.29" y="284.88" width="2.35" height="0.94"/><rect class="w" x="529.70" y="239.00" width="1.10" height="48.75"/><rect x="529.08" y="240.62" width="2.35" height="44.25"/><rect class="w" x="544.85" y="280.62" width="1.10" height="31.63"/><rect x="544.22" y="281.38" width="2.35" height="3.38"/><rect class="w" x="552.42" y="281.25" width="1.10" height="14.37"/><rect x="551.80" y="286.12" width="2.35" height="1.06"/><rect class="w" x="556.21" y="253.50" width="1.10" height="37.50"/><rect x="555.58" y="274.38" width="2.35" height="11.75"/><rect class="w" x="563.78" y="286.25" width="1.10" height="18.75"/><rect x="563.15" y="292.25" width="2.35" height="3.37"/><rect class="w" x="582.71" y="281.25" width="1.10" height="60.25"/><rect x="582.08" y="287.62" width="2.35" height="42.38"/><rect class="w" x="586.49" y="279.38" width="1.10" height="15.00"/><rect x="585.87" y="280.81" width="2.35" height="6.81"/><rect class="w" x="590.28" y="261.25" width="1.10" height="22.25"/><rect x="589.66" y="269.19" width="2.35" height="11.62"/><rect class="w" x="597.85" y="265.00" width="1.10" height="13.75"/><rect x="597.23" y="272.38" width="2.35" height="0.94"/><rect class="w" x="601.64" y="267.50" width="1.10" height="6.00"/><rect x="601.01" y="269.88" width="2.35" height="2.50"/><rect class="w" x="605.42" y="258.12" width="1.10" height="11.88"/><rect x="604.80" y="259.38" width="2.35" height="10.50"/><rect class="w" x="616.78" y="245.25" width="1.10" height="45.37"/><rect x="616.16" y="255.44" width="2.35" height="30.81"/><rect class="w" x="620.57" y="238.50" width="1.10" height="18.38"/><rect x="619.94" y="247.06" width="2.35" height="8.37"/><rect class="w" x="628.14" y="259.38" width="1.10" height="5.37"/><rect x="627.52" y="261.56" width="2.35" height="1.37"/><rect class="w" x="631.93" y="246.50" width="1.10" height="17.25"/><rect x="631.30" y="251.38" width="2.35" height="10.19"/><rect class="w" x="639.50" y="251.88" width="1.10" height="15.87"/><rect x="638.87" y="254.56" width="2.35" height="6.06"/><rect class="w" x="643.28" y="224.38" width="1.10" height="35.00"/><rect x="642.66" y="231.88" width="2.35" height="22.69"/><rect class="w" x="647.07" y="176.88" width="1.10" height="61.62"/><rect x="646.45" y="186.50" width="2.35" height="45.38"/><rect class="w" x="650.86" y="160.00" width="1.10" height="33.00"/><rect x="650.23" y="171.50" width="2.35" height="15.00"/><rect class="w" x="658.43" y="154.00" width="1.10" height="20.38"/><rect x="657.80" y="157.19" width="2.35" height="16.25"/><rect class="w" x="662.21" y="118.12" width="1.10" height="39.63"/><rect x="661.59" y="149.75" width="2.35" height="7.44"/><rect class="w" x="669.79" y="147.25" width="1.10" height="29.25"/><rect x="669.16" y="160.81" width="2.35" height="9.81"/><rect class="w" x="673.57" y="139.00" width="1.10" height="32.88"/><rect x="672.95" y="155.00" width="2.35" height="5.81"/><rect class="w" x="688.72" y="151.50" width="1.10" height="29.12"/><rect x="688.09" y="173.62" width="2.35" height="1.38"/><rect class="w" x="692.50" y="146.50" width="1.10" height="37.88"/><rect x="691.88" y="147.50" width="2.35" height="26.12"/><rect class="w" x="707.65" y="165.00" width="1.10" height="10.00"/><rect x="707.02" y="167.94" width="2.35" height="3.56"/><rect class="w" x="711.43" y="150.62" width="1.10" height="17.88"/><rect x="710.81" y="152.81" width="2.35" height="15.12"/><rect class="w" x="737.93" y="199.38" width="1.10" height="25.87"/><rect x="737.31" y="203.62" width="2.35" height="16.81"/><rect class="w" x="741.72" y="189.38" width="1.10" height="14.62"/><rect x="741.10" y="196.00" width="2.35" height="7.62"/><rect class="w" x="749.29" y="189.38" width="1.10" height="22.12"/><rect x="748.67" y="196.12" width="2.35" height="8.44"/><rect class="w" x="753.08" y="171.00" width="1.10" height="31.75"/><rect x="752.45" y="172.38" width="2.35" height="23.75"/><rect class="w" x="764.44" y="155.00" width="1.10" height="27.50"/><rect x="763.81" y="155.62" width="2.35" height="26.75"/><rect class="w" x="772.01" y="146.25" width="1.10" height="18.75"/><rect x="771.38" y="147.19" width="2.35" height="13.43"/><rect class="w" x="775.79" y="113.12" width="1.10" height="45.00"/><rect x="775.17" y="116.00" width="2.35" height="31.19"/><rect class="w" x="787.15" y="166.88" width="1.10" height="7.50"/><rect x="786.53" y="172.93" width="2.35" height="0.90"/><rect class="w" x="790.94" y="161.25" width="1.10" height="12.75"/><rect x="790.31" y="172.19" width="2.35" height="0.94"/><rect class="w" x="802.30" y="199.75" width="1.10" height="21.25"/><rect x="801.67" y="203.12" width="2.35" height="14.38"/><rect class="w" x="809.87" y="173.12" width="1.10" height="54.63"/><rect x="809.24" y="177.94" width="2.35" height="43.06"/><rect class="w" x="825.01" y="221.50" width="1.10" height="34.75"/><rect x="824.39" y="226.88" width="2.35" height="15.62"/><rect class="w" x="832.58" y="211.00" width="1.10" height="23.75"/><rect x="831.96" y="219.38" width="2.35" height="12.50"/><rect class="w" x="840.16" y="254.00" width="1.10" height="14.75"/><rect x="839.53" y="254.88" width="2.35" height="5.12"/><rect class="w" x="847.73" y="244.75" width="1.10" height="25.00"/><rect x="847.10" y="251.12" width="2.35" height="9.88"/><rect class="w" x="851.51" y="226.88" width="1.10" height="31.62"/><rect x="850.89" y="232.38" width="2.35" height="18.75"/><rect class="w" x="855.30" y="219.38" width="1.10" height="18.74"/><rect x="854.68" y="226.88" width="2.35" height="5.50"/><rect class="w" x="870.44" y="228.50" width="1.10" height="14.00"/><rect x="869.82" y="233.31" width="2.35" height="9.00"/><rect class="w" x="874.23" y="216.00" width="1.10" height="20.88"/><rect x="873.61" y="224.00" width="2.35" height="9.31"/><rect class="w" x="881.80" y="203.12" width="1.10" height="32.13"/><rect x="881.18" y="206.12" width="2.35" height="23.62"/><rect class="w" x="885.59" y="190.62" width="1.10" height="20.38"/><rect x="884.96" y="191.69" width="2.35" height="14.44"/><rect class="w" x="889.37" y="179.38" width="1.10" height="19.12"/><rect x="888.75" y="185.44" width="2.35" height="6.25"/><rect class="w" x="900.73" y="179.38" width="1.10" height="22.12"/><rect x="900.11" y="192.64" width="2.35" height="0.90"/><rect class="w" x="904.52" y="177.25" width="1.10" height="20.25"/><rect x="903.89" y="178.31" width="2.35" height="14.38"/><rect class="w" x="912.09" y="167.75" width="1.10" height="17.25"/><rect x="911.47" y="176.00" width="2.35" height="7.12"/><rect class="w" x="919.66" y="184.75" width="1.10" height="6.75"/><rect x="919.04" y="188.31" width="2.35" height="1.25"/><rect class="w" x="934.81" y="206.25" width="1.10" height="26.50"/><rect x="934.18" y="211.69" width="2.35" height="13.31"/><rect class="w" x="942.38" y="240.25" width="1.10" height="15.75"/><rect x="941.75" y="247.25" width="2.35" height="6.50"/><rect class="w" x="949.95" y="221.50" width="1.10" height="29.12"/><rect x="949.33" y="222.81" width="2.35" height="25.00"/><rect class="w" x="953.74" y="201.00" width="1.10" height="26.75"/><rect x="953.11" y="202.31" width="2.35" height="20.50"/><rect class="w" x="961.31" y="160.62" width="1.10" height="45.38"/><rect x="960.68" y="161.69" width="2.35" height="43.93"/><rect class="w" x="965.09" y="138.12" width="1.10" height="26.26"/><rect x="964.47" y="143.31" width="2.35" height="18.38"/><rect class="w" x="968.88" y="111.00" width="1.10" height="43.00"/><rect x="968.26" y="126.56" width="2.35" height="16.75"/><rect class="w" x="972.67" y="121.00" width="1.10" height="12.12"/><rect x="972.04" y="125.62" width="2.35" height="0.94"/><rect class="w" x="976.45" y="93.75" width="1.10" height="33.13"/><rect x="975.83" y="115.12" width="2.35" height="10.50"/><rect class="w" x="980.24" y="89.00" width="1.10" height="29.12"/><rect x="979.61" y="104.00" width="2.35" height="11.12"/><rect class="w" x="987.81" y="108.75" width="1.10" height="29.00"/><rect x="987.19" y="116.12" width="2.35" height="19.31"/><rect class="w" x="1002.95" y="188.12" width="1.10" height="58.76"/><rect x="1002.33" y="196.00" width="2.35" height="41.50"/><rect class="w" x="1006.74" y="186.50" width="1.10" height="21.00"/><rect x="1006.12" y="193.75" width="2.35" height="2.25"/><rect class="w" x="1025.67" y="267.50" width="1.10" height="11.25"/><rect x="1025.05" y="270.44" width="2.35" height="7.50"/><rect class="w" x="1029.46" y="248.75" width="1.10" height="31.50"/><rect x="1028.83" y="256.56" width="2.35" height="13.87"/><rect class="w" x="1033.24" y="227.75" width="1.10" height="39.75"/><rect x="1032.62" y="238.50" width="2.35" height="18.06"/><rect class="w" x="1044.60" y="231.50" width="1.10" height="36.62"/><rect x="1043.98" y="243.44" width="2.35" height="24.31"/><rect class="w" x="1048.39" y="224.38" width="1.10" height="21.62"/><rect x="1047.76" y="234.38" width="2.35" height="9.06"/><rect class="w" x="1052.17" y="225.62" width="1.10" height="11.26"/><rect x="1051.55" y="228.56" width="2.35" height="5.81"/><rect class="w" x="1055.96" y="192.25" width="1.10" height="39.25"/><rect x="1055.33" y="200.25" width="2.35" height="28.31"/><rect class="w" x="1074.89" y="234.00" width="1.10" height="27.25"/><rect x="1074.26" y="248.56" width="2.35" height="12.25"/><rect class="w" x="1078.67" y="239.38" width="1.10" height="10.37"/><rect x="1078.05" y="243.75" width="2.35" height="4.81"/><rect class="w" x="1082.46" y="233.12" width="1.10" height="15.00"/><rect x="1081.84" y="239.06" width="2.35" height="4.69"/><rect class="w" x="1093.82" y="296.25" width="1.10" height="53.50"/><rect x="1093.19" y="302.06" width="2.35" height="24.19"/><rect class="w" x="1101.39" y="301.00" width="1.10" height="45.88"/><rect x="1100.77" y="308.12" width="2.35" height="19.63"/><rect class="w" x="1108.96" y="287.50" width="1.10" height="39.00"/><rect x="1108.34" y="294.88" width="2.35" height="23.50"/><rect class="w" x="1112.75" y="276.00" width="1.10" height="22.50"/><rect x="1112.12" y="282.38" width="2.35" height="12.50"/></g>
<g fill="#e93547"><rect class="w" x="7.24" y="279.47" width="1.10" height="27.96"/><rect x="6.61" y="280.72" width="2.35" height="24.96"/><rect class="w" x="18.59" y="289.46" width="1.10" height="10.48"/><rect x="17.97" y="293.45" width="2.35" height="1.12"/><rect class="w" x="22.38" y="287.96" width="1.10" height="28.21"/><rect x="21.75" y="294.57" width="2.35" height="20.85"/><rect class="w" x="26.17" y="309.93" width="1.10" height="50.42"/><rect x="25.54" y="315.42" width="2.35" height="4.24"/><rect class="w" x="29.95" y="304.43" width="1.10" height="32.45"/><rect x="29.33" y="319.66" width="2.35" height="8.24"/><rect class="w" x="41.31" y="281.72" width="1.10" height="45.18"/><rect x="40.69" y="294.95" width="2.35" height="21.22"/><rect class="w" x="45.10" y="313.67" width="1.10" height="21.72"/><rect x="44.47" y="316.17" width="2.35" height="17.72"/><rect class="w" x="48.88" y="326.15" width="1.10" height="49.93"/><rect x="48.26" y="333.89" width="2.35" height="27.96"/><rect class="w" x="56.45" y="323.65" width="1.10" height="51.68"/><rect x="55.83" y="326.15" width="2.35" height="34.58"/><rect class="w" x="60.24" y="347.87" width="1.10" height="27.46"/><rect x="59.62" y="360.73" width="2.35" height="11.35"/><rect class="w" x="64.03" y="347.87" width="1.10" height="33.20"/><rect x="63.40" y="372.07" width="2.35" height="0.90"/><rect class="w" x="67.81" y="337.88" width="1.10" height="43.19"/><rect x="67.19" y="372.63" width="2.35" height="0.90"/><rect class="w" x="71.60" y="369.84" width="1.10" height="9.98"/><rect x="70.97" y="372.94" width="2.35" height="0.90"/><rect class="w" x="82.96" y="354.86" width="1.10" height="33.70"/><rect x="82.33" y="364.09" width="2.35" height="16.98"/><rect class="w" x="90.53" y="357.85" width="1.10" height="26.46"/><rect x="89.90" y="360.35" width="2.35" height="11.98"/><rect class="w" x="101.89" y="360.35" width="1.10" height="16.97"/><rect x="101.26" y="362.10" width="2.35" height="14.60"/><rect class="w" x="105.67" y="368.59" width="1.10" height="16.22"/><rect x="105.05" y="376.70" width="2.35" height="2.87"/><rect class="w" x="109.46" y="371.08" width="1.10" height="31.21"/><rect x="108.83" y="379.57" width="2.35" height="2.00"/><rect class="w" x="120.82" y="344.87" width="1.10" height="43.69"/><rect x="120.19" y="355.36" width="2.35" height="21.46"/><rect class="w" x="128.39" y="371.08" width="1.10" height="13.73"/><rect x="127.76" y="372.83" width="2.35" height="1.33"/><rect class="w" x="132.17" y="372.50" width="1.10" height="49.92"/><rect x="131.55" y="374.16" width="2.35" height="47.01"/><rect class="w" x="135.96" y="411.19" width="1.10" height="62.40"/><rect x="135.33" y="421.17" width="2.35" height="28.21"/><rect class="w" x="139.75" y="442.39" width="1.10" height="67.40"/><rect x="139.12" y="449.38" width="2.35" height="42.44"/><rect class="w" x="147.32" y="481.83" width="1.10" height="65.57"/><rect x="146.69" y="486.08" width="2.35" height="3.49"/><rect class="w" x="158.68" y="392.97" width="1.10" height="88.86"/><rect x="158.05" y="394.21" width="2.35" height="78.14"/><rect class="w" x="170.03" y="408.69" width="1.10" height="47.43"/><rect x="169.41" y="429.16" width="2.35" height="6.99"/><rect class="w" x="173.82" y="422.92" width="1.10" height="61.91"/><rect x="173.19" y="436.15" width="2.35" height="29.96"/><rect class="w" x="177.61" y="464.86" width="1.10" height="14.98"/><rect x="176.98" y="466.11" width="2.35" height="5.37"/><rect class="w" x="181.39" y="468.60" width="1.10" height="59.91"/><rect x="180.77" y="471.48" width="2.35" height="52.79"/><rect class="w" x="185.18" y="492.32" width="1.10" height="62.57"/><rect x="184.55" y="524.27" width="2.35" height="20.13"/><rect class="w" x="196.54" y="489.82" width="1.10" height="41.19"/><rect x="195.91" y="496.06" width="2.35" height="24.96"/><rect class="w" x="207.89" y="482.33" width="1.10" height="28.71"/><rect x="207.27" y="488.57" width="2.35" height="17.48"/><rect class="w" x="215.47" y="492.32" width="1.10" height="27.46"/><rect x="214.84" y="492.32" width="2.35" height="12.48"/><rect class="w" x="223.04" y="459.12" width="1.10" height="36.94"/><rect x="222.41" y="464.61" width="2.35" height="26.46"/><rect class="w" x="226.82" y="484.83" width="1.10" height="14.98"/><rect x="226.20" y="491.06" width="2.35" height="0.90"/><rect class="w" x="230.61" y="488.57" width="1.10" height="6.24"/><rect x="229.98" y="491.94" width="2.35" height="2.12"/><rect class="w" x="241.97" y="449.38" width="1.10" height="20.47"/><rect x="241.34" y="458.98" width="2.35" height="0.90"/><rect class="w" x="245.75" y="451.13" width="1.10" height="23.21"/><rect x="245.13" y="459.74" width="2.35" height="4.87"/><rect class="w" x="253.33" y="458.75" width="1.10" height="36.87"/><rect x="252.70" y="461.56" width="2.35" height="27.32"/><rect class="w" x="257.11" y="487.50" width="1.10" height="27.12"/><rect x="256.49" y="488.88" width="2.35" height="17.12"/><rect class="w" x="260.90" y="497.50" width="1.10" height="18.12"/><rect x="260.27" y="506.00" width="2.35" height="2.62"/><rect class="w" x="272.26" y="449.00" width="1.10" height="69.50"/><rect x="271.63" y="481.00" width="2.35" height="25.88"/><rect class="w" x="283.61" y="490.62" width="1.10" height="16.88"/><rect x="282.99" y="493.94" width="2.35" height="3.25"/><rect class="w" x="287.40" y="495.00" width="1.10" height="62.50"/><rect x="286.77" y="497.19" width="2.35" height="49.69"/><rect class="w" x="294.97" y="522.25" width="1.10" height="45.25"/><rect x="294.35" y="538.31" width="2.35" height="28.57"/><rect class="w" x="302.54" y="504.38" width="1.10" height="40.62"/><rect x="301.92" y="505.62" width="2.35" height="29.38"/><rect class="w" x="313.90" y="472.25" width="1.10" height="29.25"/><rect x="313.28" y="480.00" width="2.35" height="15.00"/><rect class="w" x="321.47" y="469.00" width="1.10" height="27.50"/><rect x="320.85" y="487.25" width="2.35" height="8.75"/><rect class="w" x="332.83" y="482.25" width="1.10" height="6.75"/><rect x="332.21" y="483.12" width="2.35" height="5.19"/><rect class="w" x="363.12" y="384.75" width="1.10" height="12.50"/><rect x="362.50" y="389.46" width="2.35" height="0.90"/><rect class="w" x="366.91" y="384.00" width="1.10" height="15.75"/><rect x="366.28" y="390.25" width="2.35" height="9.13"/><rect class="w" x="374.48" y="382.75" width="1.10" height="15.37"/><rect x="373.85" y="386.88" width="2.35" height="7.69"/><rect class="w" x="378.26" y="385.00" width="1.10" height="21.50"/><rect x="377.64" y="394.56" width="2.35" height="1.06"/><rect class="w" x="389.62" y="368.50" width="1.10" height="11.25"/><rect x="389.00" y="369.00" width="2.35" height="9.88"/><rect class="w" x="393.41" y="375.25" width="1.10" height="19.50"/><rect x="392.78" y="378.88" width="2.35" height="15.31"/><rect class="w" x="412.34" y="298.12" width="1.10" height="18.38"/><rect x="411.71" y="309.00" width="2.35" height="2.50"/><rect class="w" x="419.91" y="292.25" width="1.10" height="14.00"/><rect x="419.28" y="294.00" width="2.35" height="6.00"/><rect class="w" x="423.70" y="285.62" width="1.10" height="45.88"/><rect x="423.07" y="300.00" width="2.35" height="12.75"/><rect class="w" x="431.27" y="298.12" width="1.10" height="15.38"/><rect x="430.64" y="300.12" width="2.35" height="5.81"/><rect class="w" x="438.84" y="296.50" width="1.10" height="12.50"/><rect x="438.21" y="303.12" width="2.35" height="3.44"/><rect class="w" x="442.63" y="304.38" width="1.10" height="9.12"/><rect x="442.00" y="306.56" width="2.35" height="3.19"/><rect class="w" x="450.20" y="271.25" width="1.10" height="48.13"/><rect x="449.57" y="277.50" width="2.35" height="8.75"/><rect class="w" x="465.34" y="226.88" width="1.10" height="47.12"/><rect x="464.72" y="227.38" width="2.35" height="42.94"/><rect class="w" x="480.49" y="236.25" width="1.10" height="30.25"/><rect x="479.86" y="249.19" width="2.35" height="4.88"/><rect class="w" x="484.27" y="251.25" width="1.10" height="22.75"/><rect x="483.65" y="254.06" width="2.35" height="11.06"/><rect class="w" x="488.06" y="254.00" width="1.10" height="33.50"/><rect x="487.43" y="265.12" width="2.35" height="21.31"/><rect class="w" x="491.84" y="279.38" width="1.10" height="24.62"/><rect x="491.22" y="286.44" width="2.35" height="15.12"/><rect class="w" x="506.99" y="274.75" width="1.10" height="16.50"/><rect x="506.36" y="283.12" width="2.35" height="4.38"/><rect class="w" x="510.77" y="282.25" width="1.10" height="16.25"/><rect x="510.15" y="287.50" width="2.35" height="7.06"/><rect class="w" x="514.56" y="283.12" width="1.10" height="51.88"/><rect x="513.94" y="294.56" width="2.35" height="29.81"/><rect class="w" x="533.49" y="240.25" width="1.10" height="19.13"/><rect x="532.87" y="240.42" width="2.35" height="0.90"/><rect class="w" x="537.28" y="240.25" width="1.10" height="21.00"/><rect x="536.65" y="241.12" width="2.35" height="15.56"/><rect class="w" x="541.06" y="255.62" width="1.10" height="29.38"/><rect x="540.44" y="256.69" width="2.35" height="28.06"/><rect class="w" x="548.63" y="280.25" width="1.10" height="17.00"/><rect x="548.01" y="281.38" width="2.35" height="5.81"/><rect class="w" x="559.99" y="265.00" width="1.10" height="41.50"/><rect x="559.37" y="274.38" width="2.35" height="21.24"/><rect class="w" x="567.56" y="289.38" width="1.10" height="11.24"/><rect x="566.94" y="292.25" width="2.35" height="2.62"/><rect class="w" x="571.35" y="277.50" width="1.10" height="39.00"/><rect x="570.73" y="294.88" width="2.35" height="13.25"/><rect class="w" x="575.14" y="301.25" width="1.10" height="28.50"/><rect x="574.51" y="308.12" width="2.35" height="10.88"/><rect class="w" x="578.92" y="307.25" width="1.10" height="48.37"/><rect x="578.30" y="319.00" width="2.35" height="11.00"/><rect class="w" x="594.07" y="259.75" width="1.10" height="15.50"/><rect x="593.44" y="269.19" width="2.35" height="4.12"/><rect class="w" x="609.21" y="256.25" width="1.10" height="18.50"/><rect x="608.59" y="259.38" width="2.35" height="12.69"/><rect class="w" x="613.00" y="267.50" width="1.10" height="21.88"/><rect x="612.37" y="272.06" width="2.35" height="14.19"/><rect class="w" x="624.35" y="245.62" width="1.10" height="23.76"/><rect x="623.73" y="247.06" width="2.35" height="15.87"/><rect class="w" x="635.71" y="247.25" width="1.10" height="19.63"/><rect x="635.09" y="251.38" width="2.35" height="9.25"/><rect class="w" x="654.64" y="165.25" width="1.10" height="12.25"/><rect x="654.02" y="171.50" width="2.35" height="1.94"/><rect class="w" x="666.00" y="148.75" width="1.10" height="40.25"/><rect x="665.38" y="149.75" width="2.35" height="20.87"/><rect class="w" x="677.36" y="139.75" width="1.10" height="37.75"/><rect x="676.73" y="155.00" width="2.35" height="12.94"/><rect class="w" x="681.14" y="162.50" width="1.10" height="11.25"/><rect x="680.52" y="167.83" width="2.35" height="0.90"/><rect class="w" x="684.93" y="159.00" width="1.10" height="22.50"/><rect x="684.31" y="168.62" width="2.35" height="6.38"/><rect class="w" x="696.29" y="146.88" width="1.10" height="26.62"/><rect x="695.66" y="147.50" width="2.35" height="12.62"/><rect class="w" x="700.07" y="153.12" width="1.10" height="21.88"/><rect x="699.45" y="160.12" width="2.35" height="4.25"/><rect class="w" x="703.86" y="163.50" width="1.10" height="37.12"/><rect x="703.24" y="164.38" width="2.35" height="7.12"/><rect class="w" x="715.22" y="150.62" width="1.10" height="21.88"/><rect x="714.59" y="152.81" width="2.35" height="14.69"/><rect class="w" x="719.00" y="155.62" width="1.10" height="21.63"/><rect x="718.38" y="167.50" width="2.35" height="1.12"/><rect class="w" x="722.79" y="160.00" width="1.10" height="27.75"/><rect x="722.17" y="168.55" width="2.35" height="0.90"/><rect class="w" x="726.58" y="159.38" width="1.10" height="31.24"/><rect x="725.95" y="169.38" width="2.35" height="20.31"/><rect class="w" x="730.36" y="186.50" width="1.10" height="31.62"/><rect x="729.74" y="189.69" width="2.35" height="23.43"/><rect class="w" x="734.15" y="206.25" width="1.10" height="18.50"/><rect x="733.52" y="213.12" width="2.35" height="7.31"/><rect class="w" x="745.51" y="195.00" width="1.10" height="22.75"/><rect x="744.88" y="196.00" width="2.35" height="8.56"/><rect class="w" x="756.86" y="171.25" width="1.10" height="16.25"/><rect x="756.24" y="172.38" width="2.35" height="8.06"/><rect class="w" x="760.65" y="168.75" width="1.10" height="14.00"/><rect x="760.03" y="180.44" width="2.35" height="1.94"/><rect class="w" x="768.22" y="126.50" width="1.10" height="40.00"/><rect x="767.60" y="155.62" width="2.35" height="5.00"/><rect class="w" x="779.58" y="105.62" width="1.10" height="69.63"/><rect x="778.96" y="116.00" width="2.35" height="47.88"/><rect class="w" x="783.37" y="155.25" width="1.10" height="22.87"/><rect x="782.74" y="163.88" width="2.35" height="9.75"/><rect class="w" x="794.72" y="171.25" width="1.10" height="27.25"/><rect x="794.10" y="172.19" width="2.35" height="12.00"/><rect class="w" x="798.51" y="179.00" width="1.10" height="39.12"/><rect x="797.89" y="184.19" width="2.35" height="33.31"/><rect class="w" x="806.08" y="198.12" width="1.10" height="26.63"/><rect x="805.46" y="203.12" width="2.35" height="17.88"/><rect class="w" x="813.65" y="177.25" width="1.10" height="22.50"/><rect x="813.03" y="177.94" width="2.35" height="14.75"/><rect class="w" x="817.44" y="190.25" width="1.10" height="47.25"/><rect x="816.82" y="192.69" width="2.35" height="17.75"/><rect class="w" x="821.23" y="209.38" width="1.10" height="41.24"/><rect x="820.60" y="210.44" width="2.35" height="32.06"/><rect class="w" x="828.80" y="219.38" width="1.10" height="20.37"/><rect x="828.17" y="226.88" width="2.35" height="5.00"/><rect class="w" x="836.37" y="219.00" width="1.10" height="48.75"/><rect x="835.75" y="219.38" width="2.35" height="40.62"/><rect class="w" x="843.94" y="248.50" width="1.10" height="12.75"/><rect x="843.32" y="254.88" width="2.35" height="6.12"/><rect class="w" x="859.09" y="223.50" width="1.10" height="26.25"/><rect x="858.46" y="226.88" width="2.35" height="10.12"/><rect class="w" x="862.87" y="211.25" width="1.10" height="29.75"/><rect x="862.25" y="237.00" width="2.35" height="0.94"/><rect class="w" x="866.66" y="231.50" width="1.10" height="12.25"/><rect x="866.03" y="237.94" width="2.35" height="4.38"/><rect class="w" x="878.02" y="212.75" width="1.10" height="24.13"/><rect x="877.39" y="224.00" width="2.35" height="5.75"/><rect class="w" x="893.16" y="183.75" width="1.10" height="11.00"/><rect x="892.54" y="185.44" width="2.35" height="1.94"/><rect class="w" x="896.95" y="185.25" width="1.10" height="8.75"/><rect x="896.32" y="187.38" width="2.35" height="6.12"/><rect class="w" x="908.30" y="174.38" width="1.10" height="24.12"/><rect x="907.68" y="178.31" width="2.35" height="4.81"/><rect class="w" x="915.88" y="172.25" width="1.10" height="22.13"/><rect x="915.25" y="176.00" width="2.35" height="13.56"/><rect class="w" x="923.45" y="187.75" width="1.10" height="6.00"/><rect x="922.82" y="188.31" width="2.35" height="5.00"/><rect class="w" x="927.23" y="192.25" width="1.10" height="32.75"/><rect x="926.61" y="193.31" width="2.35" height="24.44"/><rect class="w" x="931.02" y="212.50" width="1.10" height="17.25"/><rect x="930.40" y="217.75" width="2.35" height="7.25"/><rect class="w" x="938.59" y="210.62" width="1.10" height="46.26"/><rect x="937.97" y="211.69" width="2.35" height="42.06"/><rect class="w" x="946.16" y="246.25" width="1.10" height="6.00"/><rect x="945.54" y="247.08" width="2.35" height="0.90"/><rect class="w" x="957.52" y="198.12" width="1.10" height="19.63"/><rect x="956.90" y="202.31" width="2.35" height="3.31"/><rect class="w" x="984.02" y="98.50" width="1.10" height="44.00"/><rect x="983.40" y="104.00" width="2.35" height="31.44"/><rect class="w" x="991.60" y="112.25" width="1.10" height="38.75"/><rect x="990.97" y="116.12" width="2.35" height="17.00"/><rect class="w" x="995.38" y="124.00" width="1.10" height="122.88"/><rect x="994.76" y="133.12" width="2.35" height="82.31"/><rect class="w" x="999.17" y="211.88" width="1.10" height="35.00"/><rect x="998.54" y="215.44" width="2.35" height="22.06"/><rect class="w" x="1010.53" y="192.25" width="1.10" height="51.50"/><rect x="1009.90" y="193.75" width="2.35" height="20.44"/><rect class="w" x="1014.31" y="209.38" width="1.10" height="31.87"/><rect x="1013.69" y="214.19" width="2.35" height="22.38"/><rect class="w" x="1018.10" y="224.38" width="1.10" height="43.37"/><rect x="1017.47" y="236.56" width="2.35" height="24.81"/><rect class="w" x="1021.88" y="251.25" width="1.10" height="53.75"/><rect x="1021.26" y="261.38" width="2.35" height="16.56"/><rect class="w" x="1037.03" y="205.00" width="1.10" height="62.50"/><rect x="1036.40" y="238.50" width="2.35" height="21.50"/><rect class="w" x="1040.81" y="251.88" width="1.10" height="29.12"/><rect x="1040.19" y="260.00" width="2.35" height="7.75"/><rect class="w" x="1059.74" y="183.50" width="1.10" height="23.38"/><rect x="1059.12" y="200.25" width="2.35" height="5.38"/><rect class="w" x="1063.53" y="186.50" width="1.10" height="36.25"/><rect x="1062.90" y="205.62" width="2.35" height="10.62"/><rect class="w" x="1067.32" y="209.38" width="1.10" height="41.24"/><rect x="1066.69" y="216.25" width="2.35" height="28.12"/><rect class="w" x="1071.10" y="228.50" width="1.10" height="50.25"/><rect x="1070.48" y="244.38" width="2.35" height="16.44"/><rect class="w" x="1086.25" y="236.88" width="1.10" height="51.87"/><rect x="1085.62" y="239.06" width="2.35" height="37.81"/><rect class="w" x="1090.03" y="270.62" width="1.10" height="79.13"/><rect x="1089.41" y="276.88" width="2.35" height="49.38"/><rect class="w" x="1097.60" y="299.75" width="1.10" height="37.50"/><rect x="1096.98" y="302.06" width="2.35" height="25.69"/><rect class="w" x="1105.18" y="307.75" width="1.10" height="17.87"/><rect x="1104.55" y="308.12" width="2.35" height="10.25"/><rect class="w" x="1116.53" y="268.12" width="1.10" height="48.13"/><rect x="1115.91" y="282.38" width="2.35" height="28.50"/><rect class="w" x="1120.32" y="289.00" width="1.10" height="42.50"/><rect x="1119.70" y="310.88" width="2.35" height="13.31"/><rect class="w" x="1124.11" y="301.00" width="1.10" height="58.00"/><rect x="1123.48" y="324.19" width="2.35" height="29.81"/></g>
<g id="axis"><text x="1237.00" y="32.00" font-size="9.60" font-weight="400" fill="#131722" textLength="31.25" lengthAdjust="spacingAndGlyphs" style="stroke:#131722;stroke-width:0.20px">132,500</text><text x="1237.00" y="55.00" font-size="9.60" font-weight="400" fill="#131722" textLength="31.25" lengthAdjust="spacingAndGlyphs" style="stroke:#131722;stroke-width:0.20px">130,000</text><text x="1237.00" y="79.00" font-size="9.60" font-weight="400" fill="#131722" textLength="31.25" lengthAdjust="spacingAndGlyphs" style="stroke:#131722;stroke-width:0.20px">127,500</text><text x="1237.00" y="103.00" font-size="9.60" font-weight="400" fill="#131722" textLength="31.25" lengthAdjust="spacingAndGlyphs" style="stroke:#131722;stroke-width:0.20px">125,000</text><text x="1237.00" y="127.00" font-size="9.60" font-weight="400" fill="#131722" textLength="31.25" lengthAdjust="spacingAndGlyphs" style="stroke:#131722;stroke-width:0.20px">122,500</text><text x="1237.00" y="151.00" font-size="9.60" font-weight="400" fill="#131722" textLength="31.25" lengthAdjust="spacingAndGlyphs" style="stroke:#131722;stroke-width:0.20px">120,000</text><text x="1237.00" y="175.00" font-size="9.60" font-weight="400" fill="#131722" textLength="31.25" lengthAdjust="spacingAndGlyphs" style="stroke:#131722;stroke-width:0.20px">117,500</text><text x="1237.00" y="198.00" font-size="9.60" font-weight="400" fill="#131722" textLength="31.25" lengthAdjust="spacingAndGlyphs" style="stroke:#131722;stroke-width:0.20px">115,000</text><text x="1237.00" y="222.00" font-size="9.60" font-weight="400" fill="#131722" textLength="31.25" lengthAdjust="spacingAndGlyphs" style="stroke:#131722;stroke-width:0.20px">112,500</text><text x="1237.00" y="246.00" font-size="9.60" font-weight="400" fill="#131722" textLength="31.25" lengthAdjust="spacingAndGlyphs" style="stroke:#131722;stroke-width:0.20px">110,000</text><text x="1237.00" y="270.00" font-size="9.60" font-weight="400" fill="#131722" textLength="31.25" lengthAdjust="spacingAndGlyphs" style="stroke:#131722;stroke-width:0.20px">107,500</text><text x="1237.00" y="294.00" font-size="9.60" font-weight="400" fill="#131722" textLength="31.25" lengthAdjust="spacingAndGlyphs" style="stroke:#131722;stroke-width:0.20px">105,000</text><text x="1237.00" y="318.00" font-size="9.60" font-weight="400" fill="#131722" textLength="31.25" lengthAdjust="spacingAndGlyphs" style="stroke:#131722;stroke-width:0.20px">102,500</text><text x="1237.00" y="342.00" font-size="9.60" font-weight="400" fill="#131722" textLength="31.25" lengthAdjust="spacingAndGlyphs" style="stroke:#131722;stroke-width:0.20px">100,000</text><text x="1236.40" y="365.00" font-size="9.60" font-weight="400" fill="#131722" textLength="27.40" lengthAdjust="spacingAndGlyphs" style="stroke:#131722;stroke-width:0.20px">97,500</text><text x="1236.40" y="389.00" font-size="9.60" font-weight="400" fill="#131722" textLength="27.40" lengthAdjust="spacingAndGlyphs" style="stroke:#131722;stroke-width:0.20px">95,000</text><text x="1236.40" y="413.00" font-size="9.60" font-weight="400" fill="#131722" textLength="27.40" lengthAdjust="spacingAndGlyphs" style="stroke:#131722;stroke-width:0.20px">92,500</text><text x="1236.40" y="437.00" font-size="9.60" font-weight="400" fill="#131722" textLength="27.40" lengthAdjust="spacingAndGlyphs" style="stroke:#131722;stroke-width:0.20px">90,000</text><text x="1236.40" y="461.00" font-size="9.60" font-weight="400" fill="#131722" textLength="27.40" lengthAdjust="spacingAndGlyphs" style="stroke:#131722;stroke-width:0.20px">87,500</text><text x="1236.40" y="485.00" font-size="9.60" font-weight="400" fill="#131722" textLength="27.40" lengthAdjust="spacingAndGlyphs" style="stroke:#131722;stroke-width:0.20px">85,000</text><text x="1236.40" y="508.00" font-size="9.60" font-weight="400" fill="#131722" textLength="27.40" lengthAdjust="spacingAndGlyphs" style="stroke:#131722;stroke-width:0.20px">82,500</text><text x="1236.40" y="532.00" font-size="9.60" font-weight="400" fill="#131722" textLength="27.40" lengthAdjust="spacingAndGlyphs" style="stroke:#131722;stroke-width:0.20px">80,000</text><text x="1236.40" y="556.00" font-size="9.60" font-weight="400" fill="#131722" textLength="27.40" lengthAdjust="spacingAndGlyphs" style="stroke:#131722;stroke-width:0.20px">77,500</text><text x="1236.40" y="580.00" font-size="9.60" font-weight="400" fill="#131722" textLength="27.40" lengthAdjust="spacingAndGlyphs" style="stroke:#131722;stroke-width:0.20px">75,000</text><text x="1236.40" y="604.00" font-size="9.60" font-weight="400" fill="#131722" textLength="27.40" lengthAdjust="spacingAndGlyphs" style="stroke:#131722;stroke-width:0.20px">72,500</text><text x="1236.40" y="628.00" font-size="9.60" font-weight="400" fill="#131722" textLength="27.40" lengthAdjust="spacingAndGlyphs" style="stroke:#131722;stroke-width:0.20px">70,000</text></g>
<g id="months"><text x="37.85" y="646.00" font-size="9.10" font-weight="700" fill="#131722" textLength="15.50" lengthAdjust="spacingAndGlyphs" style="stroke:#131722;stroke-width:0.12px">Feb</text><text x="142.55" y="646.00" font-size="9.10" font-weight="700" fill="#131722" textLength="16.50" lengthAdjust="spacingAndGlyphs" style="stroke:#131722;stroke-width:0.12px">Mar</text><text x="261.65" y="646.00" font-size="9.10" font-weight="700" fill="#131722" textLength="15.50" lengthAdjust="spacingAndGlyphs" style="stroke:#131722;stroke-width:0.12px">Apr</text><text x="373.65" y="646.00" font-size="9.10" font-weight="700" fill="#131722" textLength="17.50" lengthAdjust="spacingAndGlyphs" style="stroke:#131722;stroke-width:0.12px">May</text><text x="491.25" y="646.00" font-size="9.10" font-weight="700" fill="#131722" textLength="15.50" lengthAdjust="spacingAndGlyphs" style="stroke:#131722;stroke-width:0.12px">Jun</text><text x="606.85" y="646.00" font-size="9.10" font-weight="700" fill="#131722" textLength="12.50" lengthAdjust="spacingAndGlyphs" style="stroke:#131722;stroke-width:0.12px">Jul</text><text x="722.15" y="646.00" font-size="9.10" font-weight="700" fill="#131722" textLength="17.00" lengthAdjust="spacingAndGlyphs" style="stroke:#131722;stroke-width:0.12px">Aug</text><text x="840.35" y="646.00" font-size="9.10" font-weight="700" fill="#131722" textLength="16.50" lengthAdjust="spacingAndGlyphs" style="stroke:#131722;stroke-width:0.12px">Sep</text><text x="953.80" y="646.00" font-size="9.10" font-weight="700" fill="#131722" textLength="15.00" lengthAdjust="spacingAndGlyphs" style="stroke:#131722;stroke-width:0.12px">Oct</text><text x="1070.40" y="646.00" font-size="9.10" font-weight="700" fill="#131722" textLength="17.00" lengthAdjust="spacingAndGlyphs" style="stroke:#131722;stroke-width:0.12px">Nov</text><text x="1184.85" y="646.00" font-size="9.10" font-weight="700" fill="#131722" textLength="16.50" lengthAdjust="spacingAndGlyphs" style="stroke:#131722;stroke-width:0.12px">Dec</text></g>
</svg>
<div class="abs" style="left:0;top:0;width:1.4px;height:637px;background:#e4e4e4"></div>
<div class="abs" style="left:0;top:626px;width:1280px;height:1px;background:#ececec;margin-top:0.4px"></div>
<svg class="chart" width="1280" height="665" viewBox="0 0 1280 665">
<!-- bitcoin icon -->
<circle cx="16" cy="41" r="7" fill="#f7931a"/>
<!-- status dot -->
<circle cx="234.3" cy="40.7" r="6.4" fill="#d9efeb"/><circle cx="234.3" cy="40.7" r="3.3" fill="#089981"/>
<!-- sell / buy -->
<rect x="8.9" y="53.6" width="47.3" height="25.6" rx="4" fill="#fff" stroke="#ee7480" stroke-width="1.15"/>
<rect x="73.7" y="53.6" width="46.6" height="25.6" rx="4" fill="#fff" stroke="#6388ea" stroke-width="1.15"/>
<!-- collapse -->
<rect x="8.9" y="104.6" width="21.4" height="15.4" rx="2.5" fill="#fff" stroke="#e6e6e6" stroke-width="1"/>
<path d="M16.4 113.6 L19.5 110.6 L22.6 113.6" fill="none" stroke="#131722" stroke-width="1.5"/>
<!-- price label -->
<rect x="1230.3" y="347.3" width="45.6" height="24.5" fill="#f23645"/>
<rect x="1230.3" y="548.3" width="34.9" height="13.2" fill="#f0545a"/>
<!-- logo mark -->
<g fill="#131722" stroke="#fff" stroke-width="2.4" paint-order="stroke" stroke-linejoin="round">
<path d="M11 610.2H20.4V621.9H15.7V614.9H11Z"/><circle cx="23.7" cy="612.5" r="2.3"/><path d="M29.3 610.2H34.4L29.5 621.9H24.4Z"/>
</g>
<!-- flags -->
<g>
<path d="M1121 615.2 A8 8 0 0 0 1121.5 630.2" fill="none" stroke="#8a4cf0" stroke-width="1.2"/>
<path d="M1116.3 621.9 C1116.8 624.3 1117.5 625 1119.9 625.5 C1117.5 626 1116.8 626.7 1116.3 629.1 C1115.8 626.7 1115.1 626 1112.7 625.5 C1115.1 625 1115.8 624.3 1116.3 621.9Z" fill="#6a3df5" stroke="#6a3df5" stroke-width="0.9" stroke-linejoin="round"/>
<g id="flag">
<circle cx="1128.2" cy="622.2" r="8.1" fill="#fff" stroke="#f23645" stroke-width="1.2"/>
<clipPath id="fc"><circle cx="1128.2" cy="622.2" r="5.9"/></clipPath>
<g clip-path="url(#fc)"><rect x="1122" y="616" width="13" height="13" fill="#fff"/><rect x="1122" y="620.8" width="13" height="2.6" fill="#e8413f"/><rect x="1122" y="626" width="13" height="2.2" fill="#e8413f"/><rect x="1122" y="616" width="8.2" height="7.4" fill="#3f9df2"/><rect x="1130.2" y="616" width="5" height="2.2" fill="#e8413f" opacity="0.55"/></g>
</g>
<g transform="translate(18.7 0)">
<circle cx="1128.2" cy="622.2" r="8.1" fill="#fff" stroke="#f23645" stroke-width="1.2"/>
<g clip-path="url(#fc)"><rect x="1122" y="616" width="13" height="13" fill="#fff"/><rect x="1122" y="620.8" width="13" height="2.6" fill="#e8413f"/><rect x="1122" y="626" width="13" height="2.2" fill="#e8413f"/><rect x="1122" y="616" width="8.2" height="7.4" fill="#3f9df2"/><rect x="1130.2" y="616" width="5" height="2.2" fill="#e8413f" opacity="0.55"/></g>
</g>
</g>
<!-- settings hex -->
<path d="M1249 643.6 L1251.9 638.6 H1257.7 L1260.6 643.6 L1257.7 648.6 H1251.9 Z" fill="none" stroke="#131722" stroke-width="1"/><circle cx="1254.8" cy="643.6" r="1.9" fill="none" stroke="#131722" stroke-width="1"/>
<!-- bottom bits -->
<rect x="216.2" y="659" width="1" height="6" fill="#e6e6e6"/>
<path d="M228.5 664.8V663H231V664.8M232.2 664.8V662.2H234.8V664.8M236 664.8V663H238.5V664.8" fill="none" stroke="#131722" stroke-width="1"/>
<g id="txt">
<text x="13.90" y="44.00" font-size="8.20" font-weight="700" fill="#fff" style="font-style:italic;stroke:#fff;stroke-width:0.12px">B</text>
<text x="26.60" y="46.00" font-size="13.20" font-weight="400" fill="#131722" textLength="194.40" lengthAdjust="spacingAndGlyphs" style="stroke:#131722;stroke-width:0.20px">Bitcoin / U.S. Dollar · 1D · Bitstamp</text>
<text x="246.90" y="44.00" font-size="10.30" font-weight="400" fill="#131722" style="stroke:#131722;stroke-width:0.20px">O</text>
<text x="255.60" y="44.00" font-size="10.30" font-weight="400" fill="#f23645" textLength="34.50" lengthAdjust="spacingAndGlyphs" style="stroke:#f23645;stroke-width:0.20px">101,634</text>
<text x="295.00" y="44.00" font-size="10.30" font-weight="400" fill="#131722" style="stroke:#131722;stroke-width:0.20px">H</text>
<text x="303.20" y="44.00" font-size="10.30" font-weight="400" fill="#f23645" textLength="34.20" lengthAdjust="spacingAndGlyphs" style="stroke:#f23645;stroke-width:0.20px">104,019</text>
<text x="342.90" y="44.00" font-size="10.30" font-weight="400" fill="#131722" style="stroke:#131722;stroke-width:0.20px">L</text>
<text x="349.10" y="44.00" font-size="10.30" font-weight="400" fill="#f23645" textLength="28.90" lengthAdjust="spacingAndGlyphs" style="stroke:#f23645;stroke-width:0.20px">97,950</text>
<text x="383.50" y="44.00" font-size="10.30" font-weight="400" fill="#131722" style="stroke:#131722;stroke-width:0.20px">C</text>
<text x="391.20" y="44.00" font-size="10.30" font-weight="400" fill="#f23645" textLength="28.70" lengthAdjust="spacingAndGlyphs" style="stroke:#f23645;stroke-width:0.20px">98,505</text>
<text x="425.60" y="44.00" font-size="10.30" font-weight="400" fill="#f23645" textLength="70.60" lengthAdjust="spacingAndGlyphs" style="stroke:#f23645;stroke-width:0.20px">−3,130 (−3.08%)</text>
<text x="17.20" y="65.00" font-size="9.60" font-weight="700" fill="#f23645" textLength="29.80" lengthAdjust="spacingAndGlyphs" style="stroke:#f23645;stroke-width:0.12px">98,517</text>
<text x="23.00" y="75.00" font-size="8.20" font-weight="400" fill="#f23645" textLength="18.00" lengthAdjust="spacingAndGlyphs" style="stroke:#f23645;stroke-width:0.20px">SELL</text>
<text x="63.20" y="70.00" font-size="6.60" font-weight="400" fill="#131722" style="stroke:#131722;stroke-width:0.20px">1</text>
<text x="82.00" y="65.00" font-size="9.60" font-weight="700" fill="#3566f0" textLength="30.00" lengthAdjust="spacingAndGlyphs" style="stroke:#3566f0;stroke-width:0.12px">98,518</text>
<text x="89.00" y="75.00" font-size="8.20" font-weight="400" fill="#3566f0" textLength="15.00" lengthAdjust="spacingAndGlyphs" style="stroke:#3566f0;stroke-width:0.20px">BUY</text>
<text x="9.30" y="96.00" font-size="10.30" font-weight="400" fill="#131722" textLength="40.20" lengthAdjust="spacingAndGlyphs" style="stroke:#131722;stroke-width:0.20px">Vol · BTC</text>
<text x="56.00" y="96.00" font-size="10.30" font-weight="400" fill="#f0606c" textLength="27.00" lengthAdjust="spacingAndGlyphs" style="stroke:#f0606c;stroke-width:0.20px">3.01K</text>
<text x="1236.20" y="357.00" font-size="9.80" font-weight="400" fill="#fff" textLength="27.30" lengthAdjust="spacingAndGlyphs" style="stroke:#fff;stroke-width:0.20px">98,505</text>
<text x="1236.20" y="368.00" font-size="9.80" font-weight="400" fill="#ffd9dc" textLength="35.80" lengthAdjust="spacingAndGlyphs" style="stroke:#ffd9dc;stroke-width:0.20px">02:45:06</text>
<text x="1236.20" y="559.00" font-size="9.80" font-weight="400" fill="#fff" textLength="24.40" lengthAdjust="spacingAndGlyphs" style="stroke:#fff;stroke-width:0.20px">3.01K</text>
<text x="40.00" y="622.00" font-size="17.30" font-weight="700" fill="#131722" textLength="94.17" lengthAdjust="spacingAndGlyphs" style="stroke:#131722;stroke-width:0.55px;stroke-linejoin:round;filter:drop-shadow(1px 0 0 #fff) drop-shadow(-1px 0 0 #fff) drop-shadow(0 1px 0 #fff) drop-shadow(0 -1px 0 #fff)">TradingView</text>
</g>
</svg>

</div>
</body></html>
